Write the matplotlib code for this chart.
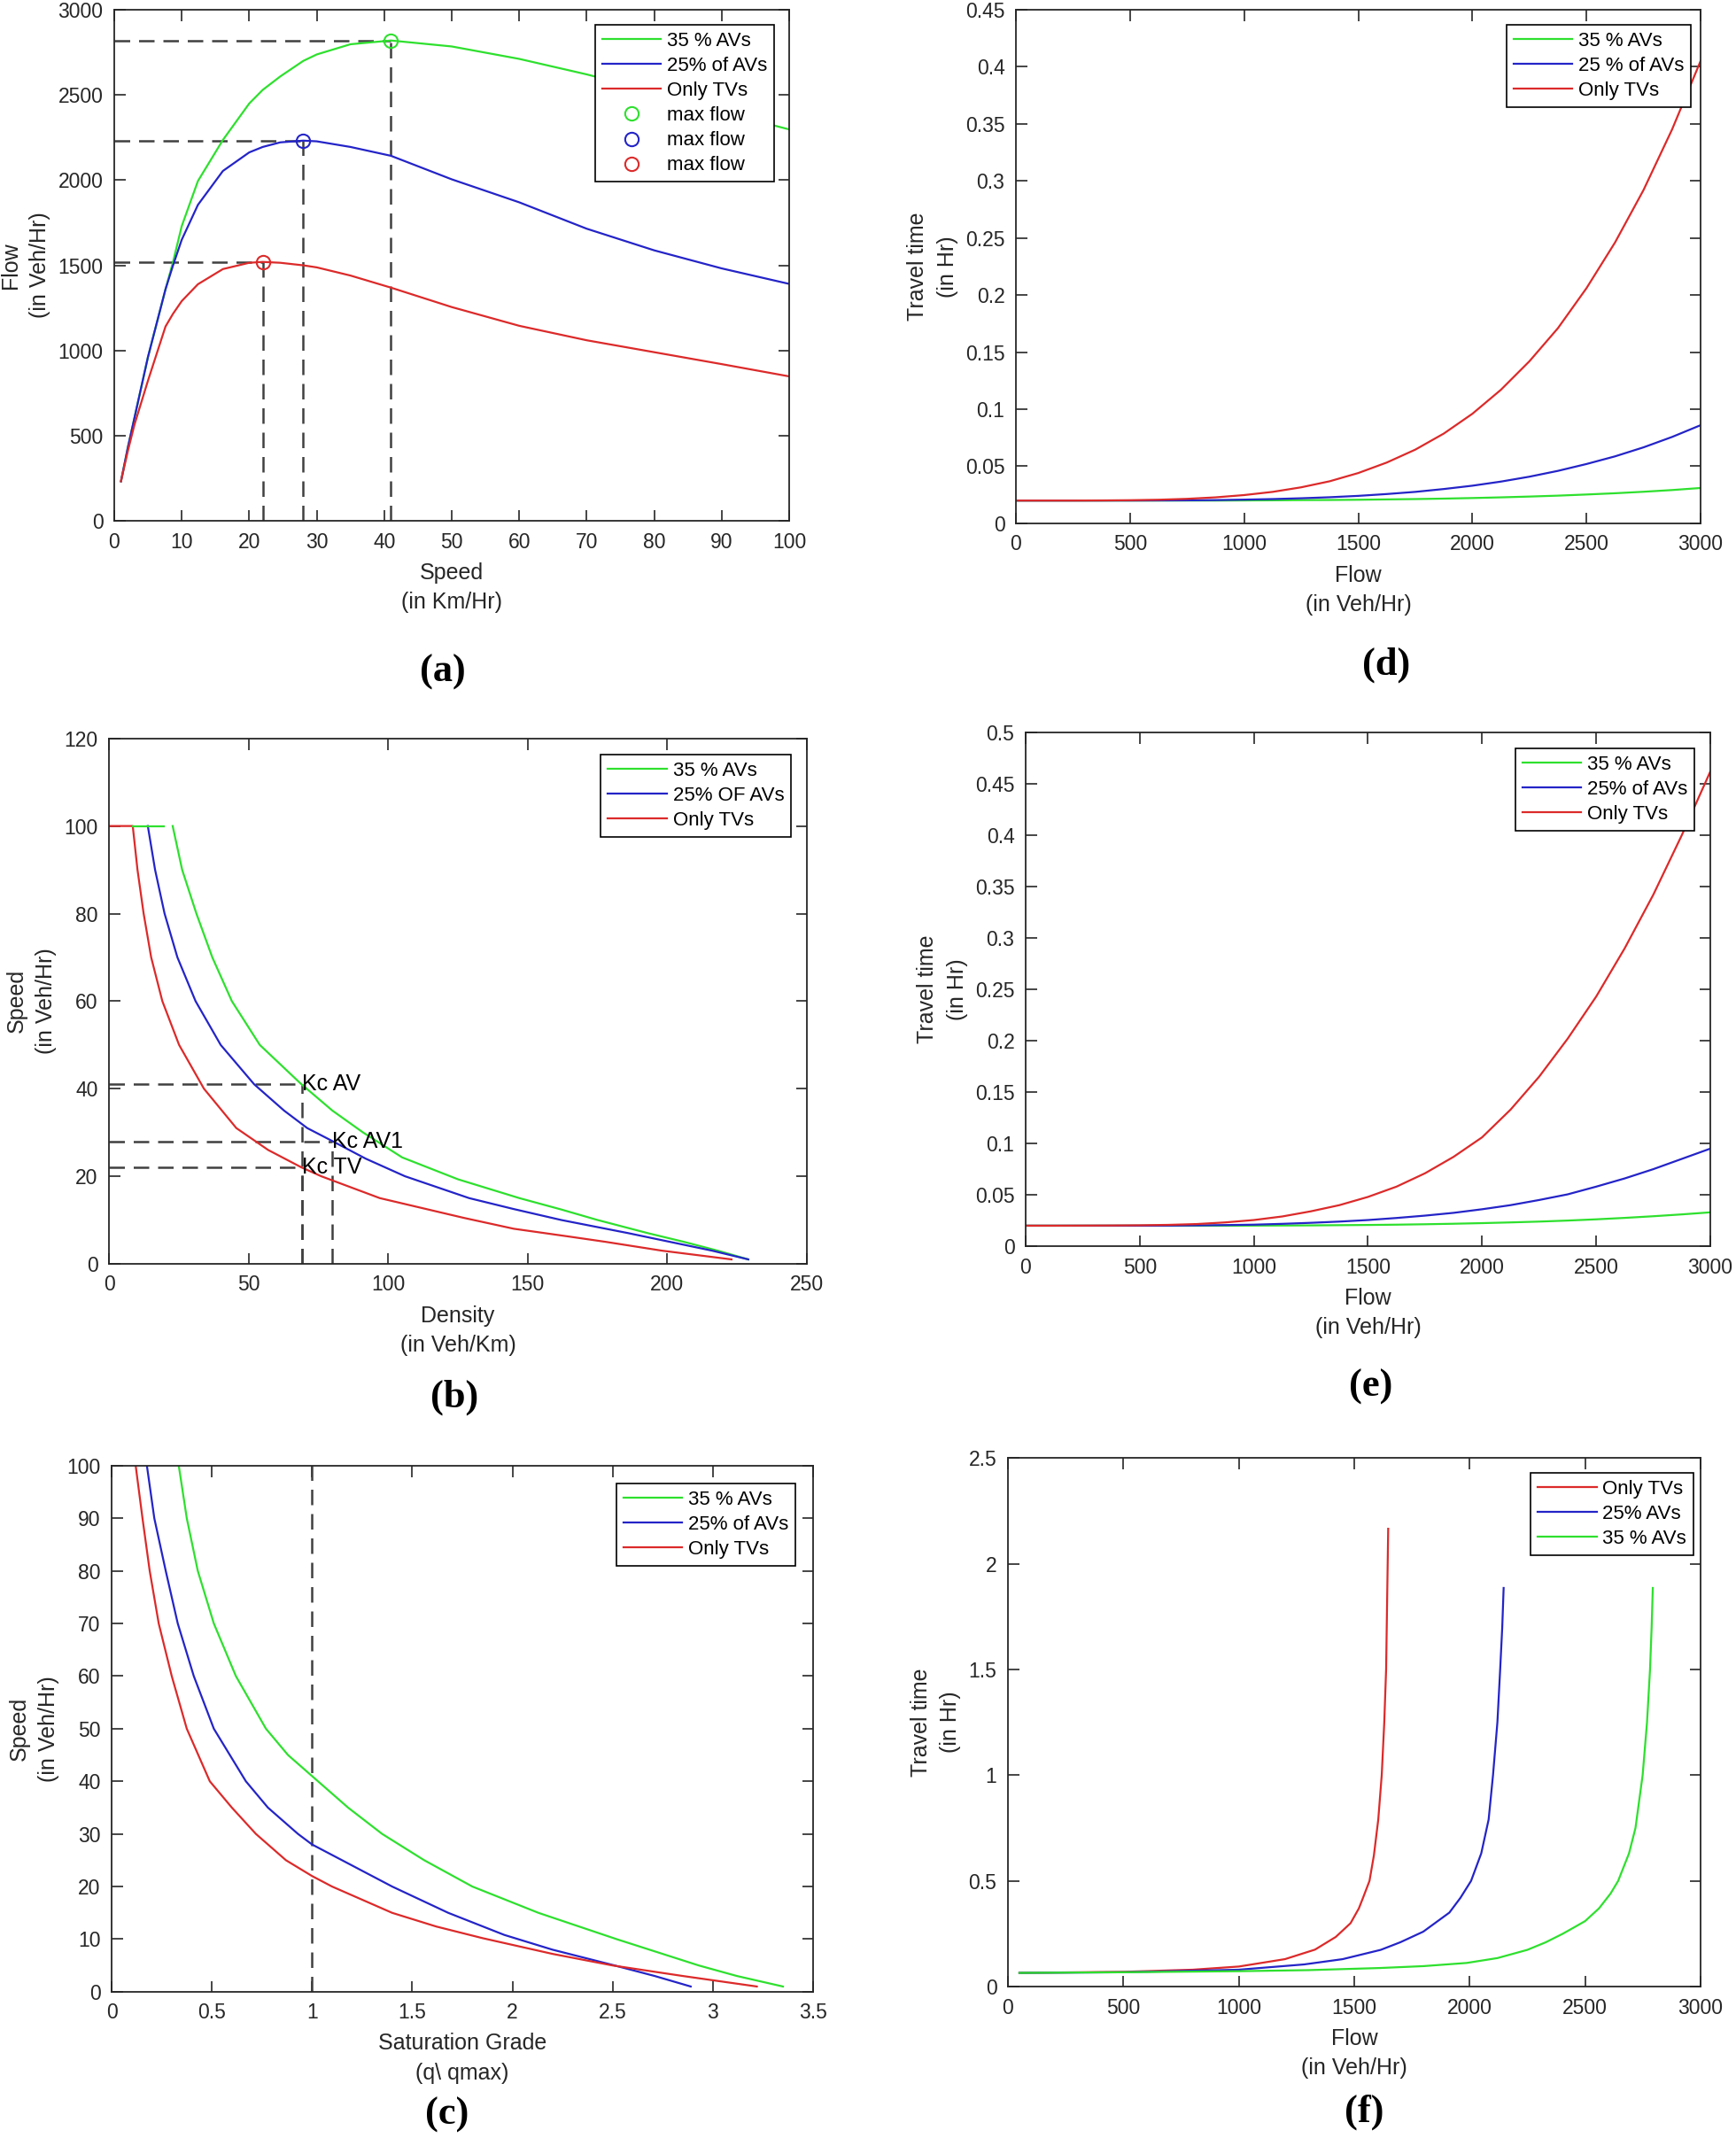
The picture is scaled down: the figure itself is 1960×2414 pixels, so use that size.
import matplotlib
matplotlib.use('Agg')
import matplotlib.pyplot as plt

plt.rcParams['font.family'] = ['Liberation Sans', 'DejaVu Sans']

GREEN = '#2ee02e'
BLUE = '#2424c8'
RED = '#dc2a2a'
DASH = '#404040'
TXT = '#262626'

# (a) flow vs speed
speed_a = [1, 2, 3, 5, 7.6, 8.7, 10, 12.4, 16.1, 20, 22, 24.6, 28, 30, 35, 41, 50, 60, 70, 80, 90, 100]
flow_a_av35 = [232, 427, 605, 962, 1360, 1518, 1730, 1995, 2236, 2450, 2530, 2609, 2700, 2738, 2798, 2820, 2785, 2712, 2621, 2518, 2400, 2298]
flow_a_av25 = [232, 427, 605, 962, 1360, 1498, 1650, 1855, 2054, 2163, 2195, 2222, 2232, 2228, 2195, 2143, 2005, 1870, 1715, 1588, 1482, 1391]
flow_a_tv = [232, 407, 565, 823, 1141, 1215, 1290, 1389, 1478, 1515, 1520, 1515, 1500, 1488, 1440, 1369, 1255, 1145, 1060, 990, 920, 848]
peak_speed = [41, 28, 22]
peak_flow = [2820, 2230, 1520]

# (d) / (e) travel time vs flow
flow_de = [0, 125, 250, 375, 500, 625, 750, 875, 1000, 1125, 1250, 1375, 1500, 1625, 1750, 1875,
           2000, 2125, 2250, 2375, 2500, 2625, 2750, 2875, 3000]
tt_d_av35 = [0.02, 0.02, 0.02, 0.02, 0.02, 0.02, 0.02, 0.02, 0.0201, 0.0202, 0.0204, 0.0205, 0.0207, 0.021, 0.0213, 0.0217,
             0.0222, 0.0228, 0.0235, 0.0243, 0.0253, 0.0264, 0.0277, 0.0292, 0.031]
tt_d_av25 = [0.02, 0.02, 0.02, 0.02, 0.02, 0.0201, 0.0202, 0.0204, 0.0208, 0.0213, 0.022, 0.0229, 0.0241, 0.0257, 0.0276, 0.0301,
             0.033, 0.0366, 0.0409, 0.046, 0.052, 0.0587, 0.0666, 0.0757, 0.086]
tt_d_tv = [0.02, 0.02, 0.02, 0.0201, 0.0203, 0.0207, 0.0215, 0.0228, 0.0248, 0.0276, 0.0316, 0.0369, 0.0441, 0.0533, 0.0646, 0.0787,
           0.096, 0.117, 0.142, 0.171, 0.206, 0.246, 0.292, 0.345, 0.405]
tt_e_av35 = [0.02, 0.02, 0.02, 0.02, 0.02, 0.02, 0.02, 0.02, 0.0201, 0.0202, 0.0203, 0.0205, 0.0207, 0.021, 0.0214, 0.0219,
             0.0225, 0.0232, 0.024, 0.025, 0.0262, 0.0276, 0.0292, 0.031, 0.033]
tt_e_av25 = [0.02, 0.02, 0.02, 0.02, 0.02, 0.0201, 0.0203, 0.0206, 0.021, 0.0218, 0.0228, 0.024, 0.0255, 0.0275, 0.0298, 0.0325,
             0.036, 0.040, 0.045, 0.0505, 0.058, 0.066, 0.075, 0.085, 0.095]
tt_e_tv = [0.02, 0.02, 0.0201, 0.0202, 0.0204, 0.0208, 0.0216, 0.0232, 0.0255, 0.029, 0.034, 0.040, 0.048, 0.058, 0.071, 0.087,
           0.106, 0.133, 0.165, 0.202, 0.243, 0.29, 0.342, 0.4, 0.462]

# (b) speed vs density
dens_b_tv = [0, 8.5, 10.2, 12.4, 15.1, 19.1, 25.1, 34, 45.6, 57, 69, 76, 97, 127, 145, 165, 178, 198, 223]
speed_b_tv = [100, 100, 90, 80, 70, 60, 50, 40, 31, 26, 22, 20, 15, 10.5, 8, 6.2, 5, 3, 1]
dens_b_av25 = [13.9, 16.5, 19.9, 24.5, 31, 40, 52, 62.7, 71, 79.5, 92, 106, 129, 145, 162, 186, 201, 216, 229]
speed_b_av25 = [100, 90, 80, 70, 60, 50, 41, 35, 31, 28.2, 24, 20, 15, 12.5, 10, 7, 5, 3, 1]
dens_b_av35 = [22.8, 26.2, 31.3, 37, 44, 54, 68.6, 80, 91, 105, 125, 147, 162, 175, 193, 206, 218, 229]
speed_b_av35 = [100, 90, 80, 70, 60, 50, 41.2, 35, 30, 24.3, 19.3, 15, 12.4, 10, 7, 5, 3, 1]
flat_b_av35 = [8.5, 19.6]
kc_dens = [69, 80, 69]
kc_speed = [41, 28, 22]
kc_names = ['Kc AV', 'Kc AV1', 'Kc TV']

# (c) speed vs saturation grade
sat_c_tv = [0.12, 0.154, 0.19, 0.235, 0.30, 0.375, 0.49, 0.6, 0.72, 0.87, 1.0, 1.10, 1.40, 1.62, 1.85, 2.2, 2.5, 2.85, 3.22]
speed_c_tv = [100, 90, 80, 70, 60, 50, 40, 35, 30, 25, 22, 20, 15, 12.4, 10.2, 7.2, 5, 3, 1]
sat_c_av25 = [0.176, 0.213, 0.27, 0.33, 0.41, 0.51, 0.59, 0.67, 0.78, 0.93, 1.0, 1.15, 1.40, 1.68, 1.96, 2.2, 2.51, 2.71, 2.89]
speed_c_av25 = [100, 90, 80, 70, 60, 50, 45, 40, 35, 30, 28, 25, 20, 15, 10.8, 8, 5, 3, 1]
sat_c_av35 = [0.335, 0.375, 0.43, 0.51, 0.62, 0.77, 0.88, 1.0, 1.18, 1.35, 1.56, 1.8, 2.13, 2.52, 2.93, 3.12, 3.35]
speed_c_av35 = [100, 90, 80, 70, 60, 50, 45, 41, 35, 30, 25, 20, 15, 10, 5, 3, 1]

# (f) travel time vs flow
flow_f_tv = [50, 500, 800, 1000, 1200, 1330, 1420, 1484, 1520, 1538, 1566, 1585, 1604, 1619, 1630, 1638, 1647]
tt_f_tv = [0.065, 0.07, 0.08, 0.095, 0.13, 0.175, 0.235, 0.30, 0.37, 0.42, 0.5, 0.62, 0.79, 1.0, 1.25, 1.5, 2.165]
flow_f_av25 = [50, 500, 1000, 1283, 1450, 1615, 1700, 1799, 1912, 1960, 2006, 2050, 2082, 2101, 2120, 2132, 2141, 2147]
tt_f_av25 = [0.065, 0.068, 0.08, 0.105, 0.13, 0.174, 0.21, 0.26, 0.35, 0.42, 0.5, 0.63, 0.79, 1.0, 1.25, 1.5, 1.7, 1.885]
flow_f_av35 = [50, 500, 1000, 1300, 1610, 1800, 1987, 2120, 2250, 2330, 2403, 2460, 2500, 2560, 2610, 2643, 2690, 2718, 2749, 2768, 2781, 2788, 2793]
tt_f_av35 = [0.065, 0.068, 0.073, 0.078, 0.088, 0.097, 0.112, 0.135, 0.174, 0.21, 0.25, 0.285, 0.31, 0.37, 0.44, 0.5, 0.63, 0.75, 1.0, 1.25, 1.5, 1.7, 1.885]


def style_axes(ax, xticks, yticks, xlabel, ylabel):
    ax.set_xlim(xticks[0], xticks[-1])
    ax.set_ylim(yticks[0], yticks[-1])
    ax.set_xticks(xticks)
    ax.set_yticks(yticks)
    ax.set_xticklabels(['%g' % t for t in xticks])
    ax.set_yticklabels(['%g' % t for t in yticks])
    ax.tick_params(direction='in', top=True, right=True, length=9, width=1.2,
                   labelsize=16.5, colors=TXT, pad=9)
    for s in ax.spines.values():
        s.set_color(TXT)
        s.set_linewidth(1.3)
    ax.set_xlabel(xlabel, fontsize=18, color=TXT, linespacing=1.5, labelpad=8)
    ax.set_ylabel(ylabel, fontsize=18, color=TXT, linespacing=1.5, labelpad=6)


def add_legend(ax, padx, pady):
    # padding from the upper right corner, in pixels
    bb = ax.get_position()
    w = bb.width * 1960
    h = bb.height * 2414
    leg = ax.legend(loc='upper right', bbox_to_anchor=(1 - padx / w, 1 - pady / h),
                    frameon=True, fancybox=False, edgecolor='black',
                    framealpha=1, fontsize=16, handlelength=3.0, handletextpad=0.3,
                    labelspacing=0.32, borderaxespad=0, borderpad=0.35)
    leg.get_frame().set_linewidth(1.2)
    return leg


fig = plt.figure(figsize=(19.6, 24.14), dpi=100)
lw = 1.6
dash_kw = dict(color=DASH, lw=1.8, dashes=(7, 4))

# ---- (a)
ax = fig.add_axes([0.0658, 0.7564, 0.3888, 0.239])
for s, q in zip(peak_speed, peak_flow):
    ax.plot([0, s], [q, q], **dash_kw)
    ax.plot([s, s], [0, q], **dash_kw)
ax.plot(speed_a, flow_a_av35, color=GREEN, lw=lw, label='35 % AVs')
ax.plot(speed_a, flow_a_av25, color=BLUE, lw=lw, label='25% of AVs')
ax.plot(speed_a, flow_a_tv, color=RED, lw=lw, label='Only TVs')
for s, q, c in zip(peak_speed, peak_flow, [GREEN, BLUE, RED]):
    ax.plot([s], [q], 'o', ms=11, mfc='none', mec=c, mew=1.5, ls='none', label='max flow')
style_axes(ax, list(range(0, 101, 10)), list(range(0, 3001, 500)), 'Speed\n(in Km/Hr)', 'Flow\n(in Veh/Hr)')
add_legend(ax, 17, 17)

# ---- (d)
ax = fig.add_axes([0.5852, 0.7552, 0.3944, 0.2403])
ax.plot(flow_de, tt_d_av35, color=GREEN, lw=lw, label='35 % AVs')
ax.plot(flow_de, tt_d_av25, color=BLUE, lw=lw, label='25 % of AVs')
ax.plot(flow_de, tt_d_tv, color=RED, lw=lw, label='Only TVs')
style_axes(ax, list(range(0, 3001, 500)), [round(0.05 * i, 2) for i in range(10)], 'Flow\n(in Veh/Hr)', 'Travel time\n(in Hr)')
add_legend(ax, 11, 17)

# ---- (b)
ax = fig.add_axes([0.0628, 0.4089, 0.402, 0.2457])
for k, v in zip(kc_dens, kc_speed):
    ax.plot([0, k], [v, v], **dash_kw)
    ax.plot([k, k], [0, v], **dash_kw)
ax.plot(dens_b_av35, speed_b_av35, color=GREEN, lw=lw, label='35 % AVs')
ax.plot(dens_b_av25, speed_b_av25, color=BLUE, lw=lw, label='25% OF AVs')
ax.plot(dens_b_tv, speed_b_tv, color=RED, lw=lw, label='Only TVs')
ax.plot(flat_b_av35, [100, 100], color=GREEN, lw=lw)
for k, v, name in zip(kc_dens, kc_speed, kc_names):
    ax.text(k, v, name, fontsize=18, color='black', ha='left', va='center')
style_axes(ax, list(range(0, 251, 50)), list(range(0, 121, 20)), 'Density\n(in Veh/Km)', 'Speed\n(in Veh/Hr)')
add_legend(ax, 18, 18)

# ---- (e)
ax = fig.add_axes([0.5908, 0.4171, 0.3944, 0.2403])
ax.plot(flow_de, tt_e_av35, color=GREEN, lw=lw, label='35 % AVs')
ax.plot(flow_de, tt_e_av25, color=BLUE, lw=lw, label='25% of AVs')
ax.plot(flow_de, tt_e_tv, color=RED, lw=lw, label='Only TVs')
style_axes(ax, list(range(0, 3001, 500)), [round(0.05 * i, 2) for i in range(11)], 'Flow\n(in Veh/Hr)', 'Travel time\n(in Hr)')
add_legend(ax, 18, 18)

# ---- (c)
ax = fig.add_axes([0.0643, 0.0684, 0.404, 0.2461])
ax.plot([1, 1], [0, 100], **dash_kw)
ax.plot(sat_c_av35, speed_c_av35, color=GREEN, lw=lw, label='35 % AVs')
ax.plot(sat_c_av25, speed_c_av25, color=BLUE, lw=lw, label='25% of AVs')
ax.plot(sat_c_tv, speed_c_tv, color=RED, lw=lw, label='Only TVs')
style_axes(ax, [0.5 * i for i in range(8)], list(range(0, 101, 10)), 'Saturation Grade\n(q\\ qmax)', 'Speed\n(in Veh/Hr)')
add_legend(ax, 20, 20)

# ---- (f)
ax = fig.add_axes([0.5806, 0.0708, 0.399, 0.2473])
ax.plot(flow_f_tv, tt_f_tv, color=RED, lw=lw, label='Only TVs')
ax.plot(flow_f_av25, tt_f_av25, color=BLUE, lw=lw, label='25% AVs')
ax.plot(flow_f_av35, tt_f_av35, color=GREEN, lw=lw, label='35 % AVs')
style_axes(ax, list(range(0, 3001, 500)), [0, 0.5, 1, 1.5, 2, 2.5], 'Flow\n(in Veh/Hr)', 'Travel time\n(in Hr)')
add_legend(ax, 8, 17)

# panel letters
letters = [('(a)', 500, 759), ('(d)', 1565, 751), ('(b)', 513, 1578),
           ('(e)', 1548, 1566), ('(c)', 505, 2388), ('(f)', 1540, 2385)]
for t, x, y in letters:
    fig.text(x / 1960, 1 - y / 2414, t, fontsize=32, fontweight='bold',
             family='Liberation Serif', ha='center', va='center')

fig.savefig('out.png', dpi=100, facecolor='white')
